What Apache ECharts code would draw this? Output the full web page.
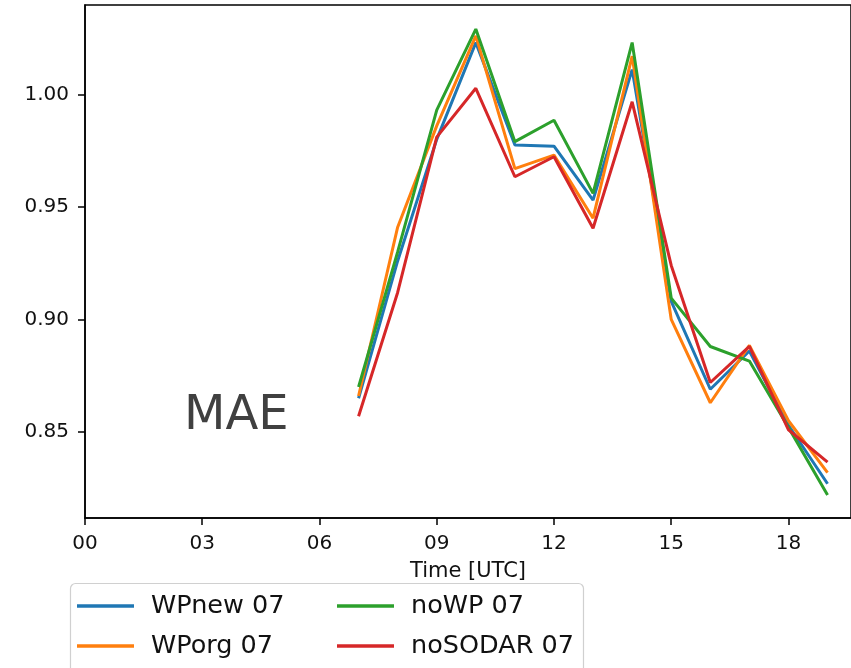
<!DOCTYPE html>
<html>
<head>
<meta charset="utf-8">
<script src="https://cdn.jsdelivr.net/npm/echarts@6/dist/echarts.min.js"></script>
<style>
  html, body { margin: 0; padding: 0; background: #fff; }
  #main { width: 851px; height: 668px; }
</style>
</head>
<body>
<div id="main"></div>
<script>
var hours = [7, 8, 9, 10, 11, 12, 13, 14, 15, 16, 17, 18, 19];
var wpNew   = [0.865, 0.926, 0.980, 1.023, 0.9775, 0.977, 0.953, 1.011, 0.908, 0.869, 0.886, 0.853, 0.827];
var wpOrg   = [0.866, 0.941, 0.986, 1.026, 0.967, 0.973, 0.945, 1.017, 0.900, 0.863, 0.8885, 0.855, 0.832];
var noWP    = [0.870, 0.930, 0.993, 1.029, 0.979, 0.9885, 0.956, 1.023, 0.9095, 0.888, 0.8815, 0.852, 0.822];
var noSODAR = [0.857, 0.912, 0.981, 1.0027, 0.9634, 0.9723, 0.9405, 0.9967, 0.924, 0.872, 0.888, 0.851, 0.8366];

var seriesNames = ['WPnew 07', 'WPorg 07', 'noWP 07', 'noSODAR 07'];
var xTicks = [0, 3, 6, 9, 12, 15, 18];
var yTicks = [0.85, 0.90, 0.95, 1.00];

var colors = ['#1f77b4', '#ff7f0e', '#2ca02c', '#d62728'];
var font = 'DejaVu Sans';

function pairs(vals) {
    return hours.map(function (h, i) { return [h, vals[i]]; });
}

var chartDom = document.getElementById('main');
var myChart = echarts.init(chartDom);
var option;

var allData = [wpNew, wpOrg, noWP, noSODAR];
var series = allData.map(function (vals, i) {
    return {
        name: seriesNames[i],
        type: 'line',
        data: pairs(vals),
        showSymbol: false,
        symbol: 'none',
        z: 2 + i,
        lineStyle: { color: colors[i], width: 3 },
        itemStyle: { color: colors[i] }
    };
});

function legendBlock(names, left) {
    return {
        orient: 'vertical',
        left: left,
        top: 591,
        padding: 0,
        icon: 'rect',
        itemWidth: 57,
        itemHeight: 3.5,
        itemGap: 10,
        selectedMode: false,
        data: names,
        textStyle: {
            fontFamily: font,
            fontSize: 25.5,
            lineHeight: 30,
            color: '#111',
            padding: [0, 0, 0, 12]
        }
    };
}

option = {
    animation: false,
    color: colors,
    grid: {
        left: 85,
        top: 5,
        width: 766,
        height: 513,
        show: true,
        borderColor: '#000',
        borderWidth: 1.5,
        backgroundColor: '#fff'
    },
    xAxis: {
        type: 'value',
        min: 0,
        max: 19.6,
        name: 'Time [UTC]',
        nameLocation: 'middle',
        nameGap: 43,
        nameTextStyle: { fontFamily: font, fontSize: 21, color: '#111' },
        splitLine: { show: false },
        axisLine: { show: true, onZero: false, lineStyle: { color: '#000', width: 1.5 } },
        axisTick: { show: true, length: 7, customValues: xTicks, lineStyle: { color: '#000', width: 1.5 } },
        axisLabel: {
            customValues: xTicks,
            margin: 16,
            fontFamily: font,
            fontSize: 20,
            color: '#111',
            formatter: function (v) { return (v < 10 ? '0' : '') + v; }
        }
    },
    yAxis: {
        type: 'value',
        min: 0.8118,
        max: 1.0397,
        splitLine: { show: false },
        axisLine: { show: true, onZero: false, lineStyle: { color: '#000', width: 1.5 } },
        axisTick: { show: true, length: 7, customValues: yTicks, lineStyle: { color: '#000', width: 1.5 } },
        axisLabel: {
            customValues: yTicks,
            margin: 16,
            fontFamily: font,
            fontSize: 20,
            color: '#111',
            formatter: function (v) { return v.toFixed(2); }
        }
    },
    legend: [
        legendBlock(seriesNames.slice(0, 2), 77),
        legendBlock(seriesNames.slice(2, 4), 337)
    ],
    graphic: [
        {
            type: 'rect',
            z: 1,
            shape: { x: 70.5, y: 583.5, width: 513, height: 100, r: 5 },
            style: { fill: '#fff', stroke: '#d0d0d0', lineWidth: 1.2 }
        },
        {
            type: 'text',
            z: 10,
            style: {
                x: 184,
                y: 417,
                text: 'MAE',
                fontFamily: font,
                fontSize: 48,
                fill: '#404040',
                verticalAlign: 'middle',
                align: 'left'
            }
        }
    ],
    series: series
};

option && myChart.setOption(option);
</script>
</body>
</html>
